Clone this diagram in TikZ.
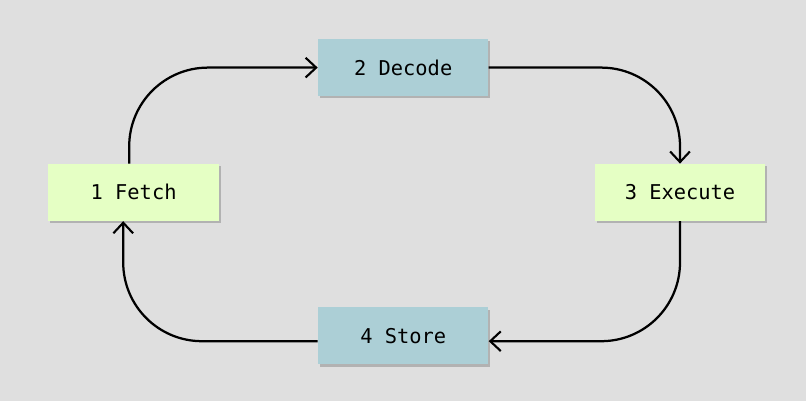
\documentclass[tikz,border=0pt]{standalone}
\usepackage{fontspec}
\setmonofont{DejaVu Sans Mono}
\usetikzlibrary{arrows.meta,shadows}
\definecolor{bgcol}{RGB}{223,223,223}
\definecolor{stagelime}{RGB}{229,255,196}
\definecolor{stageblue}{RGB}{172,207,214}
\begin{document}
\begin{tikzpicture}[
  stage/.style={minimum width=4.26cm, minimum height=1.425cm, inner sep=0pt,
    font=\ttfamily\fontsize{14.5}{17}\selectfont,
    drop shadow={shadow xshift=0.05cm, shadow yshift=-0.06cm, fill=black, opacity=0.2}},
  cycle/.style={line width=1.6pt, rounded corners=1.97cm,
    -{Straight Barb[length=7.5pt,width=14pt,line width=1.5pt]}}
]
\useasboundingbox (0,0) rectangle (20.15,-10.025);
\fill[bgcol] (0,0) rectangle (20.15,-10.025);
\node[stage, fill=stagelime] (fetch) at (3.34,-4.81) {1 Fetch};
\node[stage, fill=stageblue] (decode) at (10.08,-1.69) {2 Decode};
\node[stage, fill=stagelime] (execute) at (17.0,-4.81) {3 Execute};
\node[stage, fill=stageblue] (store) at (10.08,-8.39) {4 Store};

\draw[cycle] ([xshift=-0.11cm]fetch.north) |- (decode.west);
\draw[cycle] (decode.east) -| (execute.north);
\draw[cycle] (execute.south) |- ([yshift=-0.14cm]store.east);
\draw[cycle] ([yshift=-0.14cm]store.west) -| ([xshift=-0.26cm]fetch.south);
\end{tikzpicture}
\end{document}
